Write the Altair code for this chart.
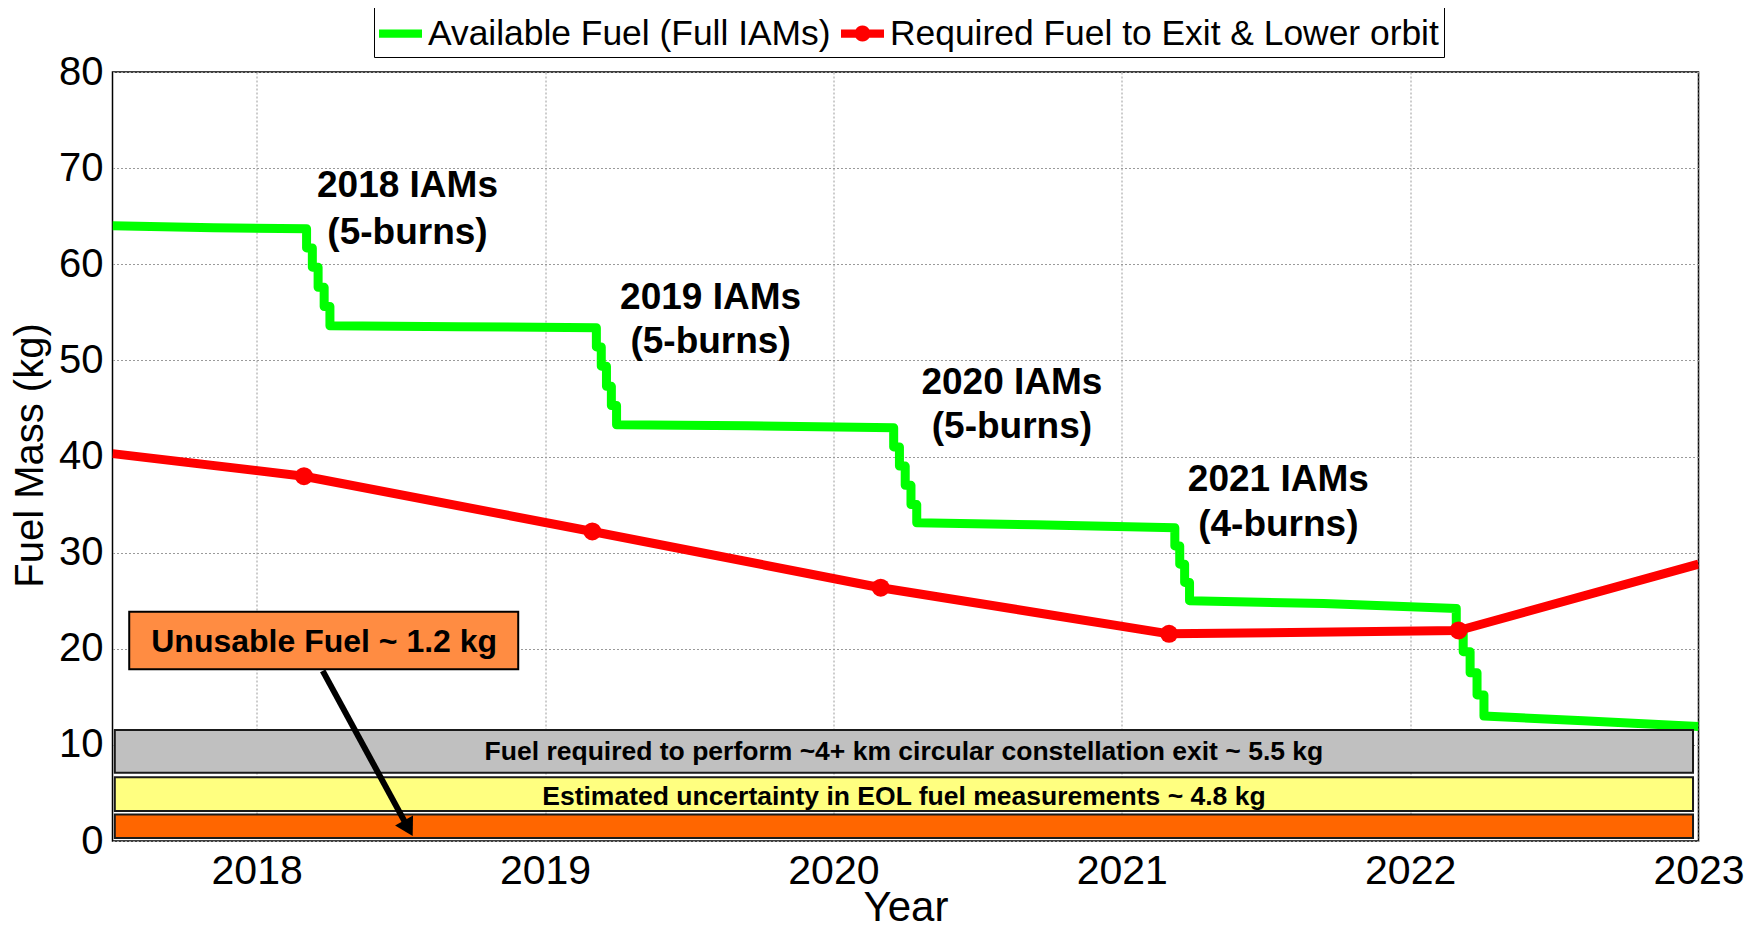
import altair as alt
import pandas as pd

SERIES = ["Available Fuel (Full IAMs)", "Required Fuel to Exit & Lower orbit"]
GREEN = "#00FF00"
RED = "#FF0000"

# Available fuel (stair-stepped by the yearly IAM burns)
green_year = [2017.50, 2017.85, 2018.173,
              2018.173, 2018.193, 2018.193, 2018.213, 2018.213, 2018.234, 2018.234, 2018.254, 2018.254,
              2018.70, 2019.178,
              2019.178, 2019.195, 2019.195, 2019.213, 2019.213, 2019.230, 2019.230, 2019.248, 2019.248,
              2019.70, 2020.209,
              2020.209, 2020.229, 2020.229, 2020.249, 2020.249, 2020.269, 2020.269, 2020.289, 2020.289,
              2020.70, 2021.184,
              2021.184, 2021.201, 2021.201, 2021.218, 2021.218, 2021.235, 2021.235,
              2021.70, 2022.160,
              2022.160, 2022.184, 2022.184, 2022.208, 2022.208, 2022.232, 2022.232, 2022.256, 2022.256,
              2022.60, 2023.0]
green_kg = [64.0, 63.8, 63.7,
            61.7, 61.7, 59.7, 59.7, 57.6, 57.6, 55.6, 55.6, 53.6,
            53.5, 53.4,
            51.4, 51.4, 49.4, 49.4, 47.3, 47.3, 45.3, 45.3, 43.3,
            43.2, 43.0,
            41.0, 41.0, 39.0, 39.0, 37.0, 37.0, 35.0, 35.0, 33.1,
            32.9, 32.6,
            30.7, 30.7, 28.8, 28.8, 26.9, 26.9, 25.0,
            24.7, 24.2,
            22.0, 22.0, 19.7, 19.7, 17.5, 17.5, 15.2, 15.2, 13.0,
            12.5, 11.9]

# Required fuel to exit & lower orbit
red_year = [2017.5, 2018.164, 2019.164, 2020.164, 2021.164, 2022.168, 2023.0]
red_kg = [40.3, 37.95, 32.2, 26.35, 21.55, 21.9, 28.8]
marker_year = [2018.164, 2019.164, 2020.164, 2021.164, 2022.168]
marker_kg = [37.95, 32.2, 26.35, 21.55, 21.9]

# IAM annotations
iam_year = [2018.523, 2019.574, 2020.619, 2021.543]
iam_title = ["2018 IAMs", "2019 IAMs", "2020 IAMs", "2021 IAMs"]
iam_title_kg = [68.1, 56.5, 47.6, 37.55]
iam_burns = ["(5-burns)", "(5-burns)", "(5-burns)", "(4-burns)"]
iam_burns_kg = [63.3, 51.95, 43.05, 32.9]

# Fuel budget bands
band_x0 = [2017.508, 2017.508, 2017.508]
band_x1 = [2022.981, 2022.981, 2022.981]
band_y0 = [7.09, 3.11, 0.30]
band_y1 = [11.54, 6.63, 2.76]
band_fill = ["#C0C0C0", "#FFFF80", "#FF6600"]
band_text = ["Fuel required to perform ~4+ km circular constellation exit ~ 5.5 kg",
             "Estimated uncertainty in EOL fuel measurements ~ 4.8 kg", ""]
band_text_kg = [9.25, 4.6, 1.5]

# Unusable-fuel callout
box_x0, box_x1, box_y0, box_y1 = [2017.558], [2018.907], [17.87], [23.84]
box_text = ["Unusable Fuel ~ 1.2 kg"]
box_text_x, box_text_kg = [2018.234], [20.75]
arrow_year = [2018.229, 2018.526]
arrow_kg = [17.7, 1.32]

x_ticks = [2018, 2019, 2020, 2021, 2022, 2023]
y_ticks = [0, 10, 20, 30, 40, 50, 60, 70, 80]

FONT = "Liberation Sans"

xscale = alt.Scale(domain=[2017.5, 2023], nice=False, zero=False)
yscale = alt.Scale(domain=[0, 80], nice=False, zero=False)

X = alt.X("year:Q", scale=xscale,
          axis=alt.Axis(values=x_ticks, format="d", labelFontSize=41, labelPadding=10,
                        labelFlush=False, labelOverlap=False, title="Year", titleFontSize=42,
                        titleX=793, titleY=79, titleBaseline="alphabetic"))
Y = alt.Y("kg:Q", scale=yscale,
          axis=alt.Axis(values=y_ticks, labelFontSize=40, labelPadding=9.5, title="Fuel Mass (kg)",
                        titleFontSize=40, titleX=-70, titleY=383, titleBaseline="alphabetic"))

green_df = pd.DataFrame({"year": green_year, "kg": green_kg, "i": range(len(green_year))})
red_df = pd.DataFrame({"year": red_year, "kg": red_kg, "i": range(len(red_year))})
marker_df = pd.DataFrame({"year": marker_year, "kg": marker_kg})

green_line = alt.Chart(green_df).mark_line(color=GREEN, strokeWidth=9, strokeJoin="round", clip=True).encode(
    x=X, y=Y, order="i:Q")
red_line = alt.Chart(red_df).mark_line(color=RED, strokeWidth=9, strokeJoin="round", clip=True).encode(
    x="year:Q", y="kg:Q", order="i:Q")
markers = alt.Chart(marker_df).mark_point(shape="circle", filled=True, color=RED, size=324, opacity=1).encode(
    x="year:Q", y="kg:Q")

# legend carrier (its own points sit outside the x-domain and are clipped away)
green_sym = "M-1,-0.19L1,-0.19L1,0.19L-1,0.19Z"
red_sym = ("M-1,-0.19L-0.3175,-0.19A0.37,0.37 0 0 1 0.3175,-0.19L1,-0.19L1,0.19L0.3175,0.19"
           "A0.37,0.37 0 0 1 -0.3175,0.19L-1,0.19Z")
legend_df = pd.DataFrame({"year": [2030.0, 2030.0], "kg": [50.0, 50.0], "series": SERIES})
leg = alt.Legend(title=None, orient="none", legendX=261.5, legendY=-65, direction="horizontal",
                 symbolSize=1849, symbolStrokeWidth=0, labelFont=FONT, labelFontSize=35.4,
                 labelColor="black", labelOffset=6, columnPadding=10, padding=5,
                 strokeColor="black", fillColor="white", labelLimit=900)
carrier = alt.Chart(legend_df).mark_point(filled=True, clip=True, opacity=1).encode(
    x="year:Q", y="kg:Q",
    color=alt.Color("series:N", scale=alt.Scale(domain=SERIES, range=[GREEN, RED]), legend=leg),
    shape=alt.Shape("series:N", scale=alt.Scale(domain=SERIES, range=[green_sym, red_sym]), legend=leg))

iam_df = pd.DataFrame({"year": iam_year, "t": iam_title, "tk": iam_title_kg, "b": iam_burns, "bk": iam_burns_kg})
iam1 = alt.Chart(iam_df).mark_text(font=FONT, fontSize=37, fontWeight="bold", color="black",
                                   align="center", baseline="middle").encode(x="year:Q", y="tk:Q", text="t:N")
iam2 = alt.Chart(iam_df).mark_text(font=FONT, fontSize=37, fontWeight="bold", color="black",
                                   align="center", baseline="middle").encode(x="year:Q", y="bk:Q", text="b:N")

band_df = pd.DataFrame({"x0": band_x0, "x1": band_x1, "y0": band_y0, "y1": band_y1,
                        "fill": band_fill, "label": band_text, "ty": band_text_kg})
bands = alt.Chart(band_df).mark_rect(stroke="#1a1a1a", strokeWidth=2).encode(
    x="x0:Q", x2="x1", y="y0:Q", y2="y1", fill=alt.Fill("fill:N", scale=None))
band_df["tx"] = [(a + b) / 2 for a, b in zip(band_x0, band_x1)]
band_labels = alt.Chart(band_df).mark_text(font=FONT, fontSize=26.5, fontWeight="bold", color="black",
                                           align="center", baseline="middle").encode(
    x="tx:Q", y="ty:Q", text="label:N")

box_df = pd.DataFrame({"x0": box_x0, "x1": box_x1, "y0": box_y0, "y1": box_y1,
                       "label": box_text, "tx": box_text_x, "ty": box_text_kg})
box = alt.Chart(box_df).mark_rect(fill="#FF8C42", stroke="black", strokeWidth=2).encode(
    x="x0:Q", x2="x1", y="y0:Q", y2="y1")
box_label = alt.Chart(box_df).mark_text(font=FONT, fontSize=32, fontWeight="bold", color="black",
                                        align="center", baseline="middle").encode(
    x="tx:Q", y="ty:Q", text="label:N")

arrow_df = pd.DataFrame({"year": arrow_year, "kg": arrow_kg, "i": [0, 1]})
arrow_line = alt.Chart(arrow_df).mark_line(color="black", strokeWidth=6).encode(
    x="year:Q", y="kg:Q", order="i:Q")
arrow_head = alt.Chart(arrow_df.iloc[[1]]).mark_point(shape="triangle-down", filled=True, color="black",
                                                      size=420, angle=331, opacity=1).encode(
    x="year:Q", y="kg:Q")

chart = alt.layer(
    green_line, red_line, markers, carrier, iam1, iam2,
    bands, band_labels, arrow_line, arrow_head, box, box_label
).properties(
    width=1586, height=769,
    autosize=alt.AutoSizeParams(type="none"),
    padding={"left": 104.5, "top": 64, "right": 52, "bottom": 88},
    background="white",
).configure_view(
    stroke="black", strokeWidth=1.5
).configure_axis(
    domain=False, ticks=False, tickSize=0, grid=True, gridColor="#9a9a9a", gridDash=[2, 2], gridWidth=1,
    labelColor="black", titleColor="black", labelFont=FONT, titleFont=FONT, titleFontWeight="normal"
)

chart.save("out.html", embed_options={"renderer": "svg", "actions": False})
